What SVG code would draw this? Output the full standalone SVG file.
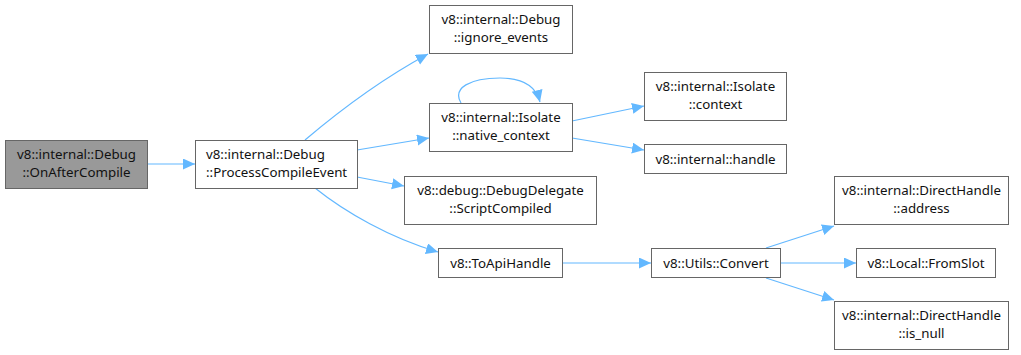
<svg xmlns="http://www.w3.org/2000/svg" width="1021" height="355" viewBox="0 0 1021 355">
  <style>
    .box { fill: #ffffff; stroke: #666666; stroke-width: 1; }
    .root { fill: #999999; stroke: #666666; stroke-width: 1; }
    .lbl { font-family: "Noto Sans", "Open Sans", sans-serif; font-size: 13.3px; fill: #111111; text-anchor: middle; }
    .left { text-anchor: start; }
    .edge { fill: none; stroke: #63b8ff; stroke-width: 1.2; marker-end: url(#arrow); }
  </style>
  <defs>
    <marker id="arrow" markerUnits="userSpaceOnUse" markerWidth="14" markerHeight="12" refX="12" refY="5.5" orient="auto">
      <path d="M0,0 L12,5.5 L0,11 Z" fill="#63b8ff"/>
    </marker>
  </defs>
  <rect width="1021" height="355" fill="#ffffff"/>

  <g id="connectors">
    <path class="edge" d="M148,164 L195,164"/>
    <path class="edge" d="M305,140 C338,112 380,80 428,54"/>
    <path class="edge" d="M357,150 L429,138"/>
    <path class="edge" d="M357,177 L404,186"/>
    <path class="edge" d="M315,188 C345,212 390,238 438,252"/>
    <path class="edge" d="M461,103 C452,88 470,78 500,78 C522,78 536,86 540,102"/>
    <path class="edge" d="M572,121 L644,106"/>
    <path class="edge" d="M572,138 L644,150"/>
    <path class="edge" d="M562,263 L651,263"/>
    <path class="edge" d="M766,248 L834,226"/>
    <path class="edge" d="M780,263 L856,263"/>
    <path class="edge" d="M766,278 L834,300"/>
  </g>

  <g id="node-onaftercompile">
    <rect class="root" x="5.5" y="140.5" width="142" height="48"/>
    <text class="lbl" x="76.5" y="159">v8::internal::Debug</text>
    <text class="lbl" x="76.5" y="177">::OnAfterCompile</text>
  </g>

  <g id="node-processcompileevent">
    <rect class="box" x="195.5" y="140.5" width="162" height="48"/>
    <text class="lbl left" x="206" y="159">v8::internal::Debug</text>
    <text class="lbl left" x="206" y="177">::ProcessCompileEvent</text>
  </g>

  <g id="node-ignore-events">
    <rect class="box" x="429.5" y="5.5" width="143" height="48"/>
    <text class="lbl" x="501" y="24">v8::internal::Debug</text>
    <text class="lbl" x="501" y="42">::ignore_events</text>
  </g>

  <g id="node-native-context">
    <rect class="box" x="429.5" y="103.5" width="143" height="48"/>
    <text class="lbl" x="501" y="122">v8::internal::Isolate</text>
    <text class="lbl" x="501" y="140">::native_context</text>
  </g>

  <g id="node-scriptcompiled">
    <rect class="box" x="404.5" y="176.5" width="192" height="48"/>
    <text class="lbl" x="500.5" y="195">v8::debug::DebugDelegate</text>
    <text class="lbl" x="500.5" y="213">::ScriptCompiled</text>
  </g>

  <g id="node-toapihandle">
    <rect class="box" x="438.5" y="248.5" width="124" height="29"/>
    <text class="lbl" x="500.5" y="267.5">v8::ToApiHandle</text>
  </g>

  <g id="node-isolate-context">
    <rect class="box" x="644.5" y="72.5" width="142" height="48"/>
    <text class="lbl" x="715.5" y="91">v8::internal::Isolate</text>
    <text class="lbl" x="715.5" y="109">::context</text>
  </g>

  <g id="node-handle">
    <rect class="box" x="644.5" y="144.5" width="142" height="29"/>
    <text class="lbl" x="715.5" y="163.5">v8::internal::handle</text>
  </g>

  <g id="node-utils-convert">
    <rect class="box" x="651.5" y="248.5" width="129" height="29"/>
    <text class="lbl" x="716" y="267.5">v8::Utils::Convert</text>
  </g>

  <g id="node-directhandle-address">
    <rect class="box" x="834.5" y="176.5" width="174" height="48"/>
    <text class="lbl" x="921.5" y="195">v8::internal::DirectHandle</text>
    <text class="lbl" x="921.5" y="213">::address</text>
  </g>

  <g id="node-fromslot">
    <rect class="box" x="856.5" y="248.5" width="139" height="29"/>
    <text class="lbl" x="926" y="267.5">v8::Local::FromSlot</text>
  </g>

  <g id="node-directhandle-isnull">
    <rect class="box" x="834.5" y="301.5" width="174" height="48"/>
    <text class="lbl" x="921.5" y="320">v8::internal::DirectHandle</text>
    <text class="lbl" x="921.5" y="338">::is_null</text>
  </g>
</svg>
